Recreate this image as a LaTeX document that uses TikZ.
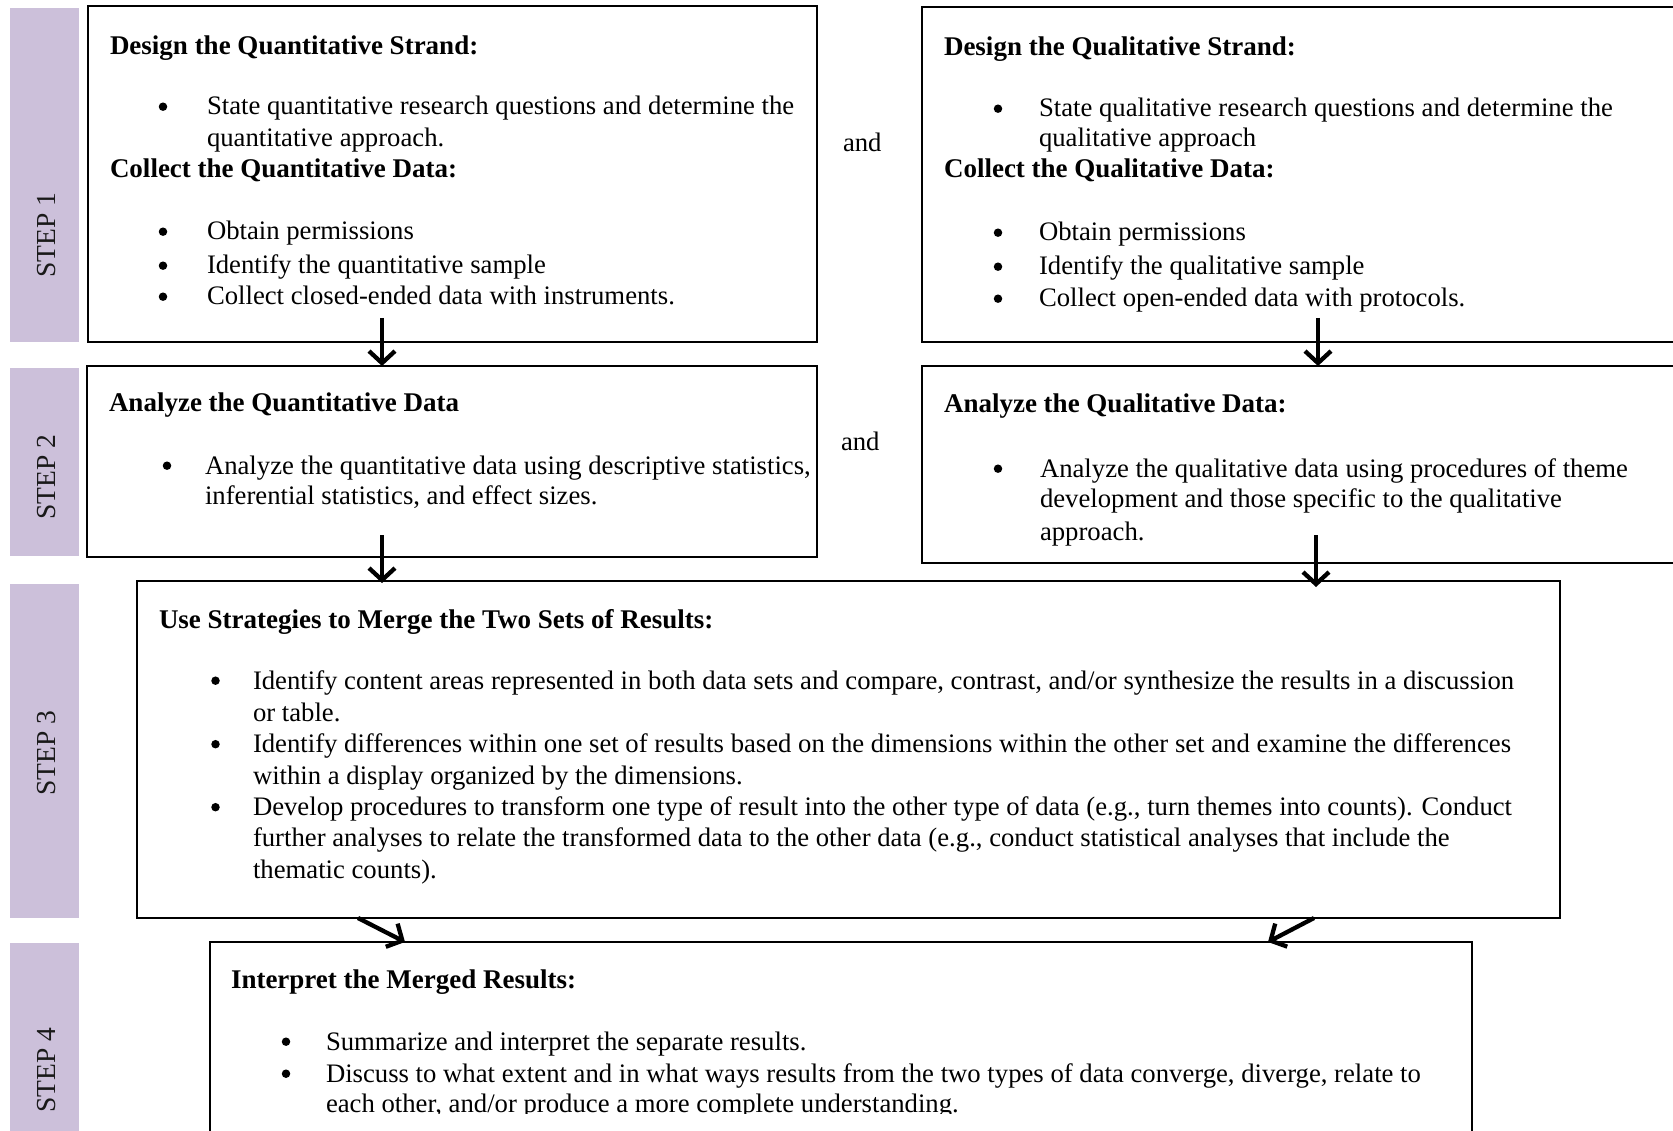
\documentclass[tikz,border=0pt]{standalone}
\usepackage{fontspec}
\setmainfont{Liberation Serif}
\usetikzlibrary{arrows.meta}
\definecolor{stepbar}{RGB}{204,192,218}
\begin{document}
\begin{tikzpicture}[x=1pt,y=-1pt,
  boxline/.style={draw=black,line width=2pt,fill=none,inner sep=0pt,outer sep=0pt,anchor=north west},
  txt/.style={anchor=base west,inner sep=0pt,outer sep=0pt,font=\fontsize{26.7}{31.5}\selectfont},
  headtxt/.style={anchor=base west,inner sep=0pt,outer sep=0pt,font=\fontsize{27}{31.5}\selectfont\bfseries},
  dotb/.style={circle,fill=black,draw=none,inner sep=0pt,minimum size=8.5pt,yshift=8.3pt},
  steplabel/.style={rotate=90,inner sep=0pt,font=\fontsize{27.5}{31.5}\selectfont,text=black!90},
  stepbar/.style={fill=stepbar,draw=none,inner sep=0pt,outer sep=0pt,anchor=north west},
  arr/.style={line width=4.3pt,-{Straight Barb[length=12pt,width=26pt]}}
]
\useasboundingbox (0,0) rectangle (1673,1131);
\clip (0,0) rectangle (1673,1131);

% step bars
\node[stepbar,minimum width=69pt,minimum height=334pt] (S1) at (10,8) {};
\node[stepbar,minimum width=69pt,minimum height=188pt] (S2) at (10,368) {};
\node[stepbar,minimum width=69pt,minimum height=334pt] (S3) at (10,584) {};
\node[stepbar,minimum width=69pt,minimum height=200pt] (S4) at (10,943) {};
\node[steplabel] (L1) at (47,235) {STEP 1};
\node[steplabel] (L2) at (47,477) {STEP 2};
\node[steplabel] (L3) at (47,753) {STEP 3};
\node[steplabel] (L4) at (47,1070) {STEP 4};

% boxes
\node[boxline,minimum width=729pt,minimum height=336pt] (Q1) at (88,6) {};
\node[boxline,minimum width=780pt,minimum height=335pt] (R1) at (922,7) {};
\node[boxline,minimum width=730pt,minimum height=191pt] (Q2) at (87,366) {};
\node[boxline,minimum width=780pt,minimum height=197pt] (R2) at (922,366) {};
\node[boxline,minimum width=1423pt,minimum height=337pt] (M) at (137,581) {};
\node[boxline,minimum width=1262pt,minimum height=220pt] (I) at (210,942) {};

% and
\node[txt] (and1) at (843,152) {and};
\node[txt] (and2) at (841,450) {and};

% Q1 text
\node[headtxt] (q1h1) at (110,55) {Design the Quantitative Strand:};
\node[dotb] (q1b1) at (163,115) {};
\node[txt] (q1t1) at (207,115) {State quantitative research questions and determine the};
\node[txt] (q1t1b) at (207,147) {quantitative approach.};
\node[headtxt] (q1h2) at (110,178) {Collect the Quantitative Data:};
\node[dotb] (q1b2) at (163,240) {};
\node[txt] (q1t2) at (207,240) {Obtain permissions};
\node[dotb] (q1b3) at (163,274) {};
\node[txt] (q1t3) at (207,274) {Identify the quantitative sample};
\node[dotb] (q1b4) at (163,305) {};
\node[txt] (q1t4) at (207,305) {Collect closed-ended data with instruments.};

% R1 text
\node[headtxt] (r1h1) at (944,56) {Design the Qualitative Strand:};
\node[dotb] (r1b1) at (998,117) {};
\node[txt] (r1t1) at (1039,117) {State qualitative research questions and determine the};
\node[txt] (r1t1b) at (1039,147) {qualitative approach};
\node[headtxt] (r1h2) at (944,178) {Collect the Qualitative Data:};
\node[dotb] (r1b2) at (998,241) {};
\node[txt] (r1t2) at (1039,241) {Obtain permissions};
\node[dotb] (r1b3) at (998,275) {};
\node[txt] (r1t3) at (1039,275) {Identify the qualitative sample};
\node[dotb] (r1b4) at (998,307) {};
\node[txt] (r1t4) at (1039,307) {Collect open-ended data with protocols.};

% Q2 text
\node[headtxt] (q2h) at (109,411) {Analyze the Quantitative Data};
\node[dotb] (q2b) at (167,474) {};
\node[txt] (q2t1) at (205,474) {Analyze the quantitative data using descriptive statistics,};
\node[txt] (q2t2) at (205,504) {inferential statistics, and effect sizes.};

% R2 text
\node[headtxt] (r2h) at (944,413) {Analyze the Qualitative Data:};
\node[dotb] (r2b) at (998,477) {};
\node[txt] (r2t1) at (1040,477) {Analyze the qualitative data using procedures of theme};
\node[txt] (r2t2) at (1040,507) {development and those specific to the qualitative};
\node[txt] (r2t3) at (1040,540) {approach.};

% M text
\node[headtxt] (mh) at (159,628) {Use Strategies to Merge the Two Sets of Results:};
\node[dotb] (mb1) at (215.5,689) {};
\node[txt] (mt1) at (253,689) {Identify content areas represented in both data sets and compare, contrast, and/or synthesize the results in a discussion};
\node[txt] (mt1b) at (253,721) {or table.};
\node[dotb] (mb2) at (215.5,752.5) {};
\node[txt] (mt2) at (253,752.5) {Identify differences within one set of results based on the dimensions within the other set and examine the differences};
\node[txt] (mt2b) at (253,784) {within a display organized by the dimensions.};
\node[dotb] (mb3) at (215.5,815.5) {};
\node[txt] (mt3) at (253,815.5) {Develop procedures to transform one type of result into the other type of data (e.g., turn themes into counts). Conduct};
\node[txt] (mt3b) at (253,846.5) {further analyses to relate the transformed data to the other data (e.g., conduct statistical analyses that include the};
\node[txt] (mt3c) at (253,878.5) {thematic counts).};

% I text
\node[headtxt] (ih) at (231,988) {Interpret the Merged Results:};
\begin{scope}
\clip (0,0) rectangle (1673,1113);
\node[dotb] (ib1) at (286,1050) {};
\node[txt] (it1) at (326,1050) {Summarize and interpret the separate results.};
\node[dotb] (ib2) at (286,1082) {};
\node[txt] (it2) at (326,1082) {Discuss to what extent and in what ways results from the two types of data converge, diverge, relate to};
\node[txt] (it2b) at (326,1112) {each other, and/or produce a more complete understanding.};
\end{scope}

% arrows
\coordinate (a1s) at (382,318);
\coordinate (a2s) at (382,535);
\coordinate (a3s) at (1318,318);
\coordinate (a4s) at (1316,535);
\coordinate (a5s) at (358,918);
\coordinate (a5e) at (405,942);
\coordinate (a6s) at (1314,918);
\coordinate (a6e) at (1268,942);
\draw[arr] (a1s) -- (a1s |- Q2.north);
\draw[arr] (a2s) -- ([yshift=-2pt]a2s |- M.north);
\draw[arr] (a3s) -- (a3s |- R2.north);
\draw[arr] (a4s) -- ([yshift=-6pt]a4s |- M.north);
\draw[arr] (a5s) -- (a5e);
\draw[arr] (a6s) -- (a6e);
\end{tikzpicture}
\end{document}
